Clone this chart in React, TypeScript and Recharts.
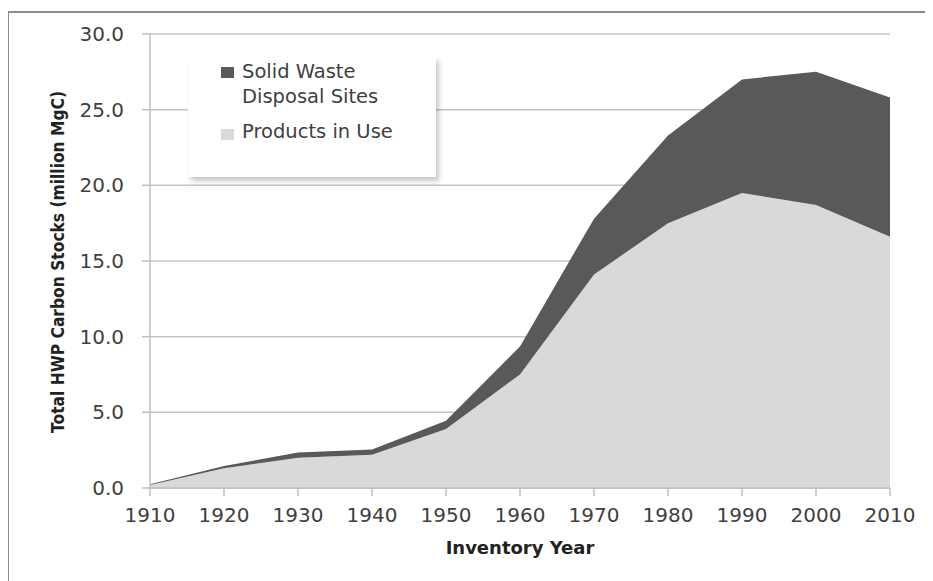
import React from 'react';
import { AreaChart, Area, XAxis, YAxis, CartesianGrid } from 'recharts';

const years = ['1910', '1920', '1930', '1940', '1950', '1960', '1970', '1980', '1990', '2000', '2010'];
const productsInUse = [0.2, 1.3, 2.0, 2.2, 3.9, 7.5, 14.1, 17.5, 19.5, 18.7, 16.6];
const solidWaste = [0.05, 0.15, 0.35, 0.35, 0.55, 1.85, 3.7, 5.8, 7.5, 8.8, 9.2];
const yTicks = [0, 5, 10, 15, 20, 25, 30];

const data = years.map((year, i) => ({
  year,
  products: productsInUse[i],
  swds: solidWaste[i],
}));

const FONT = '"DejaVu Sans", sans-serif';
const DARK = '#595959';
const LIGHT = '#d9d9d9';

const renderYTitle = (props: any) => {
  const vb = props.viewBox || {};
  const cx = 49;
  const cy = (vb.y ?? 26) + (vb.height ?? 454) / 2 + 1;
  return (
    <text
      x={cx}
      y={cy}
      transform={`rotate(-90, ${cx}, ${cy})`}
      textAnchor="middle"
      dominantBaseline="central"
      textLength={342}
      lengthAdjust="spacingAndGlyphs"
      fontFamily={FONT}
      fontWeight="bold"
      fontSize={18}
      fill="#222"
    >
      Total HWP Carbon Stocks (million MgC)
    </text>
  );
};

const renderXTitle = (props: any) => {
  const vb = props.viewBox || {};
  const cx = (vb.x ?? 142) + (vb.width ?? 740) / 2;
  return (
    <text
      x={cx}
      y={539}
      textAnchor="middle"
      dominantBaseline="central"
      fontFamily={FONT}
      fontWeight="bold"
      fontSize={18}
      fill="#222"
    >
      Inventory Year
    </text>
  );
};

// legend drawn as a plain box over the plot, so it takes no space from the chart
const LegendBox = () => (
  <div
    style={{
      position: 'absolute',
      left: 180,
      top: 49,
      width: 248,
      height: 120,
      background: '#fff',
      boxShadow: '3px 4px 5px rgba(0,0,0,0.22)',
      fontFamily: FONT,
      fontSize: 19.5,
      color: '#404040',
      lineHeight: '25px',
    }}
  >
    <div style={{ position: 'absolute', left: 33, top: 10, width: 13, height: 11, background: DARK }} />
    <div style={{ position: 'absolute', left: 54, top: 2, whiteSpace: 'nowrap' }}>
      Solid Waste
      <br />
      Disposal Sites
    </div>
    <div style={{ position: 'absolute', left: 33, top: 72, width: 13, height: 11, background: LIGHT }} />
    <div style={{ position: 'absolute', left: 54, top: 62, whiteSpace: 'nowrap' }}>Products in Use</div>
  </div>
);

export default function App() {
  return (
    <div style={{ position: 'relative', width: 925, height: 573, overflow: 'hidden', background: '#fff' }}>
      <div
        style={{
          position: 'absolute',
          left: -1,
          top: 3,
          width: 960,
          height: 620,
          borderLeft: '2px solid #8c8c8c',
          borderTop: '2px solid #8c8c8c',
        }}
      />
      <div style={{ position: 'absolute', left: 0, top: 0 }}>
        <AreaChart width={925} height={573} data={data} margin={{ top: 26, right: 43, bottom: 33, left: 0 }}>
          <CartesianGrid vertical={false} stroke="#c4c4c4" strokeWidth={1.5} />
          <XAxis
            dataKey="year"
            height={60}
            stroke="#bfbfbf"
            strokeWidth={1.5}
            tickSize={8}
            tickMargin={12}
            tick={{ fill: '#404040', fontSize: 20, fontFamily: FONT }}
            interval={0}
            label={renderXTitle}
          />
          <YAxis
            width={142}
            domain={[0, 30]}
            ticks={yTicks}
            interval={0}
            stroke="#bfbfbf"
            strokeWidth={1.5}
            tickSize={8}
            tickMargin={18}
            tickFormatter={(v: number) => v.toFixed(1)}
            tick={{ fill: '#404040', fontSize: 20, fontFamily: FONT }}
            label={renderYTitle}
          />
          <Area
            type="linear"
            dataKey="products"
            name="Products in Use"
            stackId="hwp"
            stroke="none"
            fill={LIGHT}
            fillOpacity={1}
            isAnimationActive={false}
          />
          <Area
            type="linear"
            dataKey="swds"
            name="Solid Waste Disposal Sites"
            stackId="hwp"
            stroke="none"
            fill={DARK}
            fillOpacity={1}
            isAnimationActive={false}
          />
        </AreaChart>
      </div>
      <LegendBox />
    </div>
  );
}
